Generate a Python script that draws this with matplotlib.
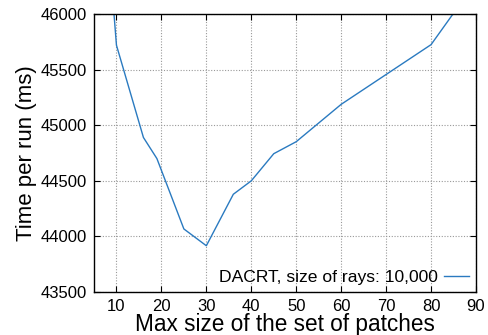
import numpy as np
import matplotlib
matplotlib.use('Agg')
import matplotlib.pyplot as plt

# values
patch_size = [5, 10, 16, 19, 25, 30, 36, 40, 45, 50, 60, 80, 90]
time_ms = [48270, 45720, 44890, 44700, 44067, 43916, 44379, 44500, 44744, 44852, 45188, 45725, 46290]
series_label = 'DACRT, size of rays: 10,000'

xticks = np.arange(10, 91, 10)
yticks = np.arange(43500, 46001, 500)

plt.rcParams['font.family'] = ['Liberation Sans', 'DejaVu Sans']

fig = plt.figure(figsize=(4.88, 3.35), dpi=100)
ax = fig.add_axes([0.1926, 0.1284, 0.7828, 0.8296])

ax.plot(patch_size, time_ms, color='#2a7ac0', lw=1.0, label=series_label)

ax.set_xlim(5, 90)
ax.set_ylim(43500, 46000)
ax.set_xticks(xticks)
ax.set_yticks(yticks)
ax.tick_params(direction='in', top=True, right=True, labelsize=12, length=4, pad=5)
ax.grid(True, color='#999999', linestyle=(0, (1, 1.5)), lw=0.8)
for s in ax.spines.values():
    s.set_linewidth(1.0)

ax.set_xlabel('Max size of the set of patches', fontsize=16.3, labelpad=-1)
ax.set_ylabel('Time per run (ms)', fontsize=16, labelpad=3)

ax.legend(loc='lower right', frameon=False, markerfirst=False, fontsize=12.6,
          handlelength=1.45, borderaxespad=0.1, handletextpad=0.3, borderpad=0.3)

fig.savefig('out.png', dpi=100)
